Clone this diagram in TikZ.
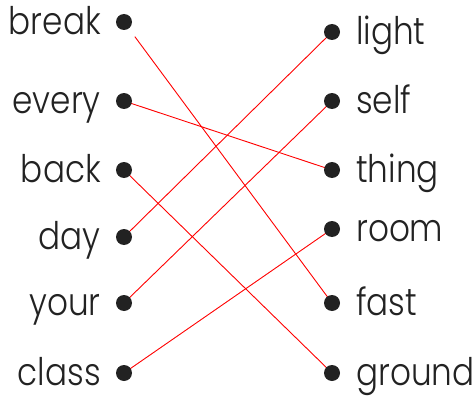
\documentclass[tikz,border=0pt]{standalone}
\usepackage{fontspec}
\setmainfont{Poppins}[UprightFont={* Light}, FakeStretch=0.86]
\usepackage{tikz}
\usetikzlibrary{positioning,backgrounds}
\definecolor{ink}{HTML}{222222}

\begin{document}
\begin{tikzpicture}[
    x=1pt, y=-1pt,
    node distance=0pt and 10pt,
    dot/.style={circle, fill=ink, inner sep=0pt, minimum size=16pt},
    word/.style={inner sep=0pt, font=\fontsize{38}{38}\selectfont, text=ink, yshift=-12.5pt},
    link/.style={red, line width=0.9pt}
  ]
    \useasboundingbox (0,0) rectangle (474,396);

    % left column
    \node[dot] (break) at (124,22) {};
    \node[dot] (every) at (124,101) {};
    \node[dot] (back)  at (124,170) {};
    \node[dot] (day)   at (124,237) {};
    \node[dot] (your)  at (124,303) {};
    \node[dot] (class) at (124,373) {};

    % right column
    \node[dot] (light)  at (332,32) {};
    \node[dot] (self)   at (332,101) {};
    \node[dot] (thing)  at (332,170) {};
    \node[dot] (room)   at (332,229) {};
    \node[dot] (fast)   at (332,303) {};
    \node[dot] (ground) at (332,373) {};

    \foreach \w in {break,every,back,day,your,class}
      \node[word, left=23pt of \w.center, anchor=base east] {\w};
    \foreach \w in {light,self,thing,room,fast,ground}
      \node[word, right=24pt of \w.center, anchor=base west] {\w};

    \begin{pgfonlayer}{background}
      \draw[link, shorten <=10pt] (break) -- (fast.center);
      \draw[link] (every.center) -- (thing.center);
      \draw[link] (back.center) -- (ground.center);
      \draw[link] (day.center) -- (light.center);
      \draw[link] (your.center) -- (self.center);
      \draw[link] (class.center) -- (room.center);
    \end{pgfonlayer}
  \end{tikzpicture}
\end{document}
